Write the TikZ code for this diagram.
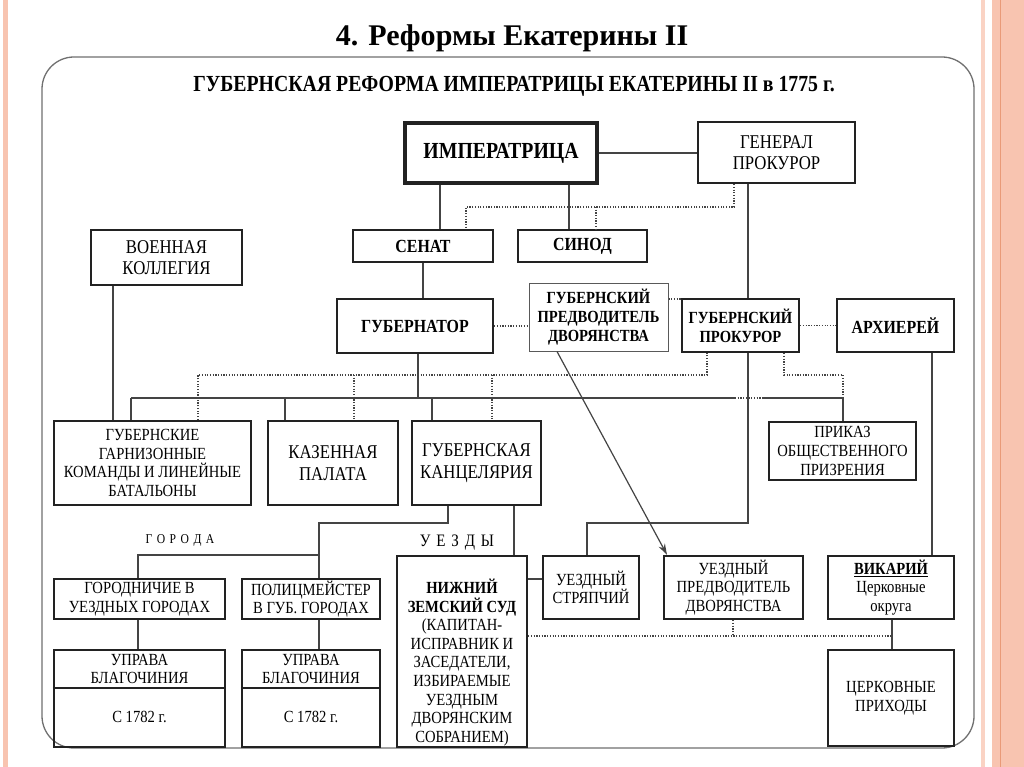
\documentclass[tikz,border=0pt]{standalone}
\usepackage{fontspec}
\setmainfont{Liberation Serif}
\newfontfamily\tnr[FakeStretch=1.001,BoldFont={Liberation Serif Bold}]{Liberation Serif}
\newfontfamily\cnd[FakeStretch=0.86]{Liberation Serif}
\usetikzlibrary{arrows.meta,calc}
\definecolor{salmon}{HTML}{F8C4B0}
\definecolor{salmonlt}{HTML}{FAD3C4}
\definecolor{salmondk}{HTML}{E99A78}
\definecolor{ink}{HTML}{222222}
\definecolor{wire}{HTML}{444444}
\definecolor{framec}{HTML}{707070}
\begin{document}
\begin{tikzpicture}[x=1pt,y=-1pt,
  box/.style={draw=ink, line width=2.4pt, inner sep=0pt, align=center},
  finebox/.style={draw=ink!75, line width=1pt, inner sep=0pt, align=center},
  conn/.style={draw=wire, line width=1.2pt},
  dots/.style={draw=wire, line width=1.2pt, dash pattern=on 1.2pt off 1.5pt},
  tA/.style={font=\cnd\fontsize{19.5}{21.5}\selectfont},
  tB/.style={font=\cnd\fontsize{17}{18.6}\selectfont},
  tBold/.style={font=\cnd\bfseries\fontsize{18.5}{21}\selectfont},
  tSm/.style={font=\cnd\bfseries\fontsize{17}{19.3}\selectfont}
]
\path[use as bounding box] (0,0) rectangle (1024,767);
\fill[white] (0,0) rectangle (1024,767);
% page stripes
\fill[salmon] (3,0) rectangle (8,767);
\fill[salmonlt] (981,0) rectangle (985,767);
\fill[salmon] (992,0) rectangle (1024,767);
\draw[salmondk, line width=1.5pt] (1000.5,0) -- (1000.5,767);
% frame
\draw[draw=framec, line width=1.3pt, rounded corners=32pt] (42,57) rectangle (974,748);
% titles
\node[font=\tnr\bfseries\fontsize{30}{32}\selectfont, anchor=base] (title) at (512,46) {4. Реформы Екатерины II};
\node[font=\cnd\bfseries\fontsize{23}{25}\selectfont, anchor=base] (sub) at (514,92) {ГУБЕРНСКАЯ РЕФОРМА ИМПЕРАТРИЦЫ ЕКАТЕРИНЫ II в 1775 г.};
% boxes
\node[box, line width=3.8pt, minimum width=192pt, minimum height=60pt, font=\cnd\bfseries\fontsize{23}{25}\selectfont] (imp) at (501,153) {ИМПЕРАТРИЦА};
\node[box, tA, minimum width=157pt, minimum height=61pt] (gen) at (776.5,152.5) {ГЕНЕРАЛ\\ПРОКУРОР};
\node[box, tBold, minimum width=140pt, minimum height=32pt] (senat) at (423,246) {СЕНАТ};
\node[box, tBold, minimum width=129pt, minimum height=32pt] (sinod) at (582.5,246) {СИНОД};
\node[box, tA, minimum width=151pt, minimum height=55pt] (voen) at (166.5,257.5) {ВОЕННАЯ\\КОЛЛЕГИЯ};
\node[box, tBold, minimum width=156pt, minimum height=54pt] (gubern) at (415,326) {ГУБЕРНАТОР};
\node[finebox, tSm, minimum width=139pt, minimum height=68pt] (gpred) at (598.5,317) {ГУБЕРНСКИЙ\\ПРЕДВОДИТЕЛЬ\\ДВОРЯНСТВА};
\node[box, tSm, minimum width=117pt, minimum height=53pt] (gprok) at (740.5,325.5) {ГУБЕРНСКИЙ\\ПРОКУРОР};
\node[box, tBold, minimum width=117pt, minimum height=53pt] (arh) at (895.5,325.5) {АРХИЕРЕЙ};
\node[box, tB, minimum width=197pt, minimum height=84pt] (garn) at (152.5,463) {ГУБЕРНСКИЕ\\ГАРНИЗОННЫЕ\\КОМАНДЫ И ЛИНЕЙНЫЕ\\БАТАЛЬОНЫ};
\node[box, tA, minimum width=130pt, minimum height=84pt] (kaz) at (333,463) {КАЗЕННАЯ\\ПАЛАТА};
\node[box, tA, minimum width=129pt, minimum height=84pt] (kanc) at (476.5,463) {ГУБЕРНСКАЯ\\КАНЦЕЛЯРИЯ};
\node[box, tB, minimum width=147pt, minimum height=58pt] (prikaz) at (842.5,451) {ПРИКАЗ\\ОБЩЕСТВЕННОГО\\ПРИЗРЕНИЯ};
\node[box, tB, minimum width=171pt, minimum height=40pt] (gorod) at (139.5,599) {ГОРОДНИЧИЕ В\\УЕЗДНЫХ ГОРОДАХ};
\node[box, tB, minimum width=138pt, minimum height=40pt] (polic) at (311,599) {ПОЛИЦМЕЙСТЕР\\В ГУБ. ГОРОДАХ};
\node[box, minimum width=171pt, minimum height=97pt] (u1) at (139.5,698.5) {};
\node[box, minimum width=138pt, minimum height=97pt] (u2) at (311,698.5) {};
\draw[ink, line width=1.6pt] ($(u1.north west)+(0,39)$) -- ($(u1.north east)+(0,39)$);
\draw[ink, line width=1.6pt] ($(u2.north west)+(0,39)$) -- ($(u2.north east)+(0,39)$);
\node[tB, align=center] (u1a) at ($(u1.north)+(0,20)$) {УПРАВА\\БЛАГОЧИНИЯ};
\node[tB, align=center] (u2a) at ($(u2.north)+(0,20)$) {УПРАВА\\БЛАГОЧИНИЯ};
\node[tB] (u1b) at ($(u1.north)+(0,68)$) {С 1782 г.};
\node[tB] (u2b) at ($(u2.north)+(0,68)$) {С 1782 г.};
\node[box, minimum width=130pt, minimum height=191pt] (nizh) at (462,651.5) {};
\node[tB, align=center, anchor=north, inner sep=0pt] (nizht) at ($(nizh.north)+(0,24)$) {\bfseries НИЖНИЙ\\\bfseries ЗЕМСКИЙ СУД\\(КАПИТАН-\\ИСПРАВНИК И\\ЗАСЕДАТЕЛИ,\\ИЗБИРАЕМЫЕ\\УЕЗДНЫМ\\ДВОРЯНСКИМ\\СОБРАНИЕМ)};
\node[box, tB, minimum width=96pt, minimum height=63pt] (stryap) at (591,587.5) {УЕЗДНЫЙ\\СТРЯПЧИЙ};
\node[box, tB, minimum width=139pt, minimum height=63pt] (uezpred) at (733.5,587.5) {УЕЗДНЫЙ\\ПРЕДВОДИТЕЛЬ\\ДВОРЯНСТВА};
\node[box, tB, minimum width=126pt, minimum height=63pt] (vikar) at (891,587.5) {\underline{\bfseries ВИКАРИЙ}\\Церковные\\округа};
\node[box, tB, minimum width=126pt, minimum height=96pt] (prihody) at (891,698) {ЦЕРКОВНЫЕ\\ПРИХОДЫ};
% labels
\node[font=\cnd\fontsize{13.5}{15}\selectfont] (goroda) at (180,540) {Г\hspace{4.5pt}О\hspace{4.5pt}Р\hspace{4.5pt}О\hspace{4.5pt}Д\hspace{4.5pt}А};
\node[font=\cnd\fontsize{17.5}{19}\selectfont] (uezdy) at (457,543) {У\,\,Е\,\,З\,\,Д\,\,Ы};
% coordinates
\coordinate (c440) at (440,0);
\coordinate (c569) at (569,0);
\coordinate (g1) at (734,207);
\coordinate (g2) at (466,207);
\coordinate (g3) at (596,207);
\coordinate (c748) at (748,0);
\coordinate (c423) at (423,0);
\coordinate (c418) at (418,398);
\coordinate (busL) at (131,398);
\coordinate (busG1) at (735,398);
\coordinate (busG2) at (762,398);
\coordinate (busR) at (843,398);
\coordinate (bk) at (285,398);
\coordinate (bc) at (432,398);
\coordinate (dL) at (198,375);
\coordinate (dk) at (354,375);
\coordinate (dc) at (492,375);
\coordinate (dR) at (707,375);
\coordinate (dP) at (784,375);
\coordinate (sp) at (748,523);
\coordinate (sq) at (587,523);
\coordinate (vx) at (113,0);
\coordinate (ax) at (932,0);
\coordinate (arS) at (557,0);
\coordinate (arE) at (667,0);
\coordinate (k1) at (448,523);
\coordinate (k2) at (319,523);
\coordinate (k3) at (319,555);
\coordinate (k4) at (138,555);
\coordinate (k5) at (514,0);
\coordinate (ns) at (0,579);
\coordinate (dd) at (892,636);
\coordinate (du) at (733,636);
\coordinate (vx2) at (892,0);
\coordinate (gp) at (0,299);
% connectors
\draw[conn] (imp.east) -- (gen.west |- imp.east);
\draw[conn] (imp.south -| c440) -- (senat.north -| c440);
\draw[conn] (imp.south -| c569) -- (sinod.north -| c569);
\draw[dots] (gen.south -| g1) -- (g1) -- (g2) -- (senat.north -| g2);
\draw[dots] (g3) -- (sinod.north -| g3);
\draw[conn] (gen.south -| c748) -- (gprok.north -| c748);
\draw[conn] (senat.south -| c423) -- (gubern.north -| c423);
\draw[dots] (gubern.east) -- (gubern.east -| gpred.west);
\draw[dots] (gpred.east |- gp) -- (gprok.west |- gp);
\draw[dots] (gprok.east) -- (arh.west);
\draw[conn] (gubern.south -| c418) -- (c418);
\draw[conn] (busL) -- (busG1);
\draw[dots] (busG1) -- (busG2);
\draw[conn] (busG2) -- (busR) -- (prikaz.north -| busR);
\draw[conn] (busL) -- (garn.north -| busL);
\draw[conn] (bk) -- (kaz.north -| bk);
\draw[conn] (bc) -- (kanc.north -| bc);
\draw[dots] (garn.north -| dL) -- (dL) -- (dR) -- (gprok.south -| dR);
\draw[dots] (dk) -- (kaz.north -| dk);
\draw[dots] (dc) -- (kanc.north -| dc);
\draw[dots] (gprok.south -| dP) -- (dP) -| (busR);
\draw[conn] (gprok.south -| sp) -- (sp) -- (sq) -- (stryap.north -| sq);
\draw[conn] (voen.south -| vx) -- (garn.north -| vx);
\draw[conn] (arh.south -| ax) -- (vikar.north -| ax);
\draw[conn, -{Stealth[length=11pt,width=7pt]}] (gpred.south -| arS) -- (uezpred.north -| arE);
\draw[conn] (kanc.south -| k1) -- (k1) -- (k2) -- (polic.north -| k2);
\draw[conn] (k3) -- (k4) -- (gorod.north -| k4);
\draw[conn] (gorod.south -| k4) -- (u1.north -| k4);
\draw[conn] (polic.south -| k2) -- (u2.north -| k2);
\draw[conn] (kanc.south -| k5) -- (nizh.north -| k5);
\draw[conn] (nizh.east |- ns) -- (stryap.west |- ns);
\draw[dots] (nizh.east |- dd) -- (dd);
\draw[dots] (uezpred.south -| du) -- (du);
\draw[conn] (vikar.south -| vx2) -- (prihody.north -| vx2);
\end{tikzpicture}
\end{document}
